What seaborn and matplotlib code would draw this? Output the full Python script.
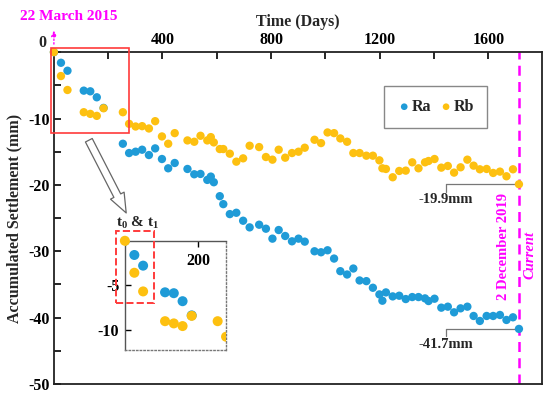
import numpy as np
import pandas as pd
import matplotlib
matplotlib.use("Agg")
import matplotlib.pyplot as plt
import seaborn as sns
from matplotlib.patches import Rectangle, FancyArrowPatch

# Messtage (Tage seit 22.03.2015) und Setzungen in mm
days = [0, 26, 50, 110, 134, 158, 183, 254, 277, 301,
        325, 350, 373, 398, 421, 445, 492, 517, 540, 565,
        578, 589, 611, 624, 648, 672, 697, 721, 756, 781,
        805, 828, 852, 877, 901, 924, 960, 984, 1008, 1032,
        1055, 1080, 1103, 1126, 1151, 1175, 1199, 1210, 1223, 1248,
        1272, 1296, 1320, 1343, 1367, 1380, 1402, 1427, 1451, 1474,
        1498, 1523, 1546, 1569, 1594, 1618, 1643, 1667, 1691, 1713]
ra = [0, -1.6, -2.8, -5.8, -5.9, -6.8, -8.4, -13.8, -15.2, -15.0,
      -14.7, -15.5, -14.5, -16.1, -17.5, -16.7, -17.6, -18.4, -18.35, -19.25,
      -18.75, -19.6, -21.7, -22.9, -24.4, -24.2, -25.4, -26.4, -26.0, -26.6,
      -28.1, -26.8, -27.7, -28.5, -28.1, -28.55, -30.0, -30.15, -29.85, -31.1,
      -33.0, -33.5, -32.6, -34.4, -34.5, -35.5, -36.5, -37.45, -36.2, -36.8,
      -36.7, -37.2, -36.9, -36.9, -37.1, -37.5, -37.15, -38.5, -38.35, -39.2,
      -38.6, -38.35, -39.75, -40.5, -39.75, -39.75, -39.6, -40.35, -39.95, -41.7]
rb = [0, -3.6, -5.7, -9.05, -9.3, -9.6, -8.45, -9.05, -10.8, -11.2,
      -11.15, -11.5, -10.4, -12.7, -13.8, -12.2, -13.3, -13.5, -12.6, -13.3,
      -12.8, -13.6, -14.6, -14.6, -15.3, -16.5, -16.0, -14.1, -14.3, -15.8,
      -16.2, -14.7, -15.9, -15.2, -15.0, -14.4, -13.2, -13.7, -12.1, -12.2,
      -13.0, -13.5, -15.2, -15.2, -15.6, -15.6, -16.3, -17.5, -17.6, -18.85,
      -17.9, -17.85, -16.6, -17.5, -16.6, -16.4, -16.1, -17.4, -17.15, -18.15,
      -17.35, -16.2, -17.1, -17.65, -17.6, -18.2, -18.0, -18.7, -17.65, -19.9]

RA_COL = "#1f9bd7"
RB_COL = "#fdc010"
MAG = "#ff00ff"
RED = "#ff3b3b"

df = pd.DataFrame({"day": days, "Ra": ra, "Rb": rb})

sns.set_theme(style="ticks")
plt.rcParams["font.family"] = ["Liberation Serif", "DejaVu Serif"]
plt.rcParams["font.weight"] = "bold"
plt.rcParams["axes.unicode_minus"] = False
plt.rcParams["mathtext.fontset"] = "custom"
plt.rcParams["mathtext.rm"] = "Liberation Serif:bold"

fig = plt.figure(figsize=(5.5, 3.96), dpi=100)
ax = fig.add_axes([0.098, 0.0303, 0.887, 0.838])

sns.scatterplot(data=df, x="day", y="Ra", color=RA_COL, s=36, edgecolor="none",
                ax=ax, label="Ra", clip_on=False, zorder=3)
sns.scatterplot(data=df, x="day", y="Rb", color=RB_COL, s=36, edgecolor="none",
                ax=ax, label="Rb", clip_on=False, zorder=4)

ax.set_xlim(0, 1797)
ax.set_ylim(-50, 0)
ax.xaxis.tick_top()
ax.xaxis.set_label_position("top")
xt = list(range(200, 1800, 200))
ax.set_xticks(xt)
ax.set_xticklabels([str(v) if v % 400 == 0 else "" for v in xt])
yt = list(range(-50, 1, 5))
ax.set_yticks(yt)
ax.set_yticklabels([str(v) if (v % 10 == 0 and v != 0) else "" for v in yt])
ax.tick_params(direction="in", length=5, width=1.2, labelsize=11.5, pad=3,
               colors="black")
for lab in ax.get_xticklabels() + ax.get_yticklabels():
    lab.set_fontweight("bold")
for sp in ax.spines.values():
    sp.set_color("#222222")
    sp.set_linewidth(1.3)

ax.set_xlabel("Time (Days)", fontsize=11.5, fontweight="bold", labelpad=4)
ax.set_ylabel("Accumulated Settlement (mm)", fontsize=11.5, fontweight="bold",
              labelpad=4)
ax.text(-0.0226, 1.028, "0", transform=ax.transAxes, ha="center", va="center",
        fontsize=11.5, fontweight="bold")

leg = ax.legend(loc="center", bbox_to_anchor=(0.782, 0.835), ncol=2,
                frameon=True, fancybox=False, edgecolor="#888888",
                handletextpad=0.0, columnspacing=0.5, handlelength=0.9,
                markerscale=0.8, borderpad=0.8, framealpha=1,
                prop={"size": 11.5, "weight": "bold"})
leg.get_frame().set_linewidth(1.0)

# aktuelle Messung
ax.axvline(days[-1], color=MAG, ls=(0, (4, 2.5)), lw=1.8, zorder=2)
ax.text(1655, -29.3, "2 December 2019", rotation=90, ha="center", va="center",
        color=MAG, fontsize=10.5, fontweight="bold")
ax.text(1755, -30.6, "Current", rotation=90, ha="center", va="center",
        color=MAG, fontsize=10.5, fontweight="bold", style="italic")

ax.annotate("", xy=(0, 3.66), xytext=(0, 0.8), annotation_clip=False,
            arrowprops=dict(arrowstyle="-|>", ls=":", color=MAG, lw=1.0,
                            mutation_scale=8))
ax.text(54, 5.32, "22 March 2015", ha="center", va="center", color=MAG,
        fontsize=11, fontweight="bold", clip_on=False)

# Endwerte markieren
for val in (rb[-1], ra[-1]):
    ax.plot([1444, days[-1]], [val, val], color="#777777", lw=0.9, zorder=1)
    ax.plot([1444, 1444], [val, val - 1.1], color="#777777", lw=0.9, zorder=1)
    ax.text(1444, val - 2.3, f"{val:.1f}mm", ha="center", va="center",
            fontsize=10.5, fontweight="bold")

ax.add_patch(Rectangle((-12, -12.2), 287, 12.85, fill=False, ec=RED, lw=1.2,
                       clip_on=False, zorder=5))
ax.add_patch(FancyArrowPatch((124, -12.9), (271, -24.6),
                             arrowstyle="simple,head_width=1.1,head_length=1.4,tail_width=0.55",
                             mutation_scale=10, fc="white", ec="#666666", lw=0.9,
                             zorder=5))

# Ausschnitt
axins = fig.add_axes([0.227, 0.116, 0.184, 0.276])
sns.scatterplot(data=df, x="day", y="Ra", color=RA_COL, s=52, edgecolor="none",
                ax=axins, zorder=3)
sns.scatterplot(data=df, x="day", y="Rb", color=RB_COL, s=52, edgecolor="none",
                ax=axins, zorder=4)
sns.scatterplot(data=df.iloc[:1], x="day", y="Rb", color=RB_COL, s=52,
                edgecolor="none", ax=axins, zorder=4, clip_on=False)
axins.set_xlim(0, 277)
axins.set_ylim(-12.3, 0)
axins.set_xlabel("")
axins.set_ylabel("")
axins.xaxis.tick_top()
axins.set_xticks([200])
axins.set_yticks([-5, -10])
axins.tick_params(axis="x", direction="in", length=4, width=1, pad=-20,
                  labelsize=11.5, colors="black")
axins.tick_params(axis="y", direction="in", length=4, width=1, pad=4,
                  labelsize=11.5, colors="black")
for lab in axins.get_xticklabels() + axins.get_yticklabels():
    lab.set_fontweight("bold")
for side in ("top", "left"):
    axins.spines[side].set_color("#555555")
    axins.spines[side].set_linewidth(1.0)
for side in ("right", "bottom"):
    axins.spines[side].set_color("#777777")
    axins.spines[side].set_linestyle(":")
    axins.spines[side].set_linewidth(1.0)
axins.add_patch(Rectangle((-23, -7.0), 102, 8.1, fill=False, ec=RED, ls="--",
                          lw=1.4, clip_on=False, zorder=5))
axins.text(36, 2.0, r"$\mathrm{t_0}$ & $\mathrm{t_1}$", ha="center", va="center",
           fontsize=11, fontweight="bold", clip_on=False)

fig.savefig("out.png", dpi=100)
